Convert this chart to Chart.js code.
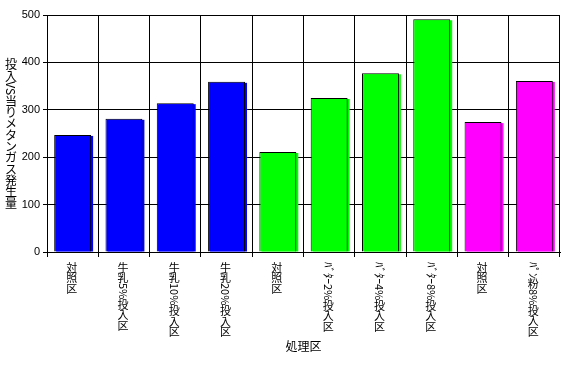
<!DOCTYPE html>
<html>
<head>
<meta charset="utf-8">
<script src="https://cdn.jsdelivr.net/npm/chart.js@4"></script>
<style>
  body { margin: 0; background: #fff; }
  canvas { display: block; }
</style>
</head>
<body>
<canvas id="methaneChart" width="576" height="381"></canvas>
<script>
const categories = ['対照区', '牛乳5%投入区', '牛乳10%投入区', '牛乳20%投入区', '対照区',
                    'ﾊﾞﾀｰ2%投入区', 'ﾊﾞﾀｰ4%投入区', 'ﾊﾞﾀｰ8%投入区', '対照区', 'ﾊﾟﾝ粉8%投入区'];
const methaneValues = [247, 281, 314, 359, 211, 325, 377, 491, 274, 361];
const barColors = ['#0000FF', '#0000FF', '#0000FF', '#0000FF',
                   '#00FF00', '#00FF00', '#00FF00', '#00FF00',
                   '#FF00FF', '#FF00FF'];
const yTicks = [0, 100, 200, 300, 400, 500];
const yTitle = '投入VS当りメタンガス発生量';
const xTitle = '処理区';

const cjkFont = '"Noto Sans CJK JP", sans-serif';

// half-width chars (ascii + half-width kana) get turned sideways, like Excel vertical text
function isHalfWidth(ch) {
  const c = ch.codePointAt(0);
  return c < 0x100 || (c >= 0xFF61 && c <= 0xFF9F);
}

function splitRuns(text) {
  const runs = [];
  for (const ch of text) {
    const half = isHalfWidth(ch);
    const last = runs[runs.length - 1];
    if (half && last && last.half) {
      last.text += ch;
    } else {
      runs.push({ text: ch, half: half });
    }
  }
  return runs;
}

function verticalHeight(ctx, text, advance) {
  let h = 0;
  splitRuns(text).forEach(run => {
    h += run.half ? ctx.measureText(run.text).width : advance;
  });
  return h;
}

function drawVertical(ctx, text, cx, top, advance) {
  let y = top;
  splitRuns(text).forEach(run => {
    if (run.half) {
      const w = ctx.measureText(run.text).width;
      ctx.save();
      ctx.translate(cx, y);
      ctx.rotate(Math.PI / 2);
      ctx.textAlign = 'left';
      ctx.textBaseline = 'middle';
      ctx.fillText(run.text, 0, 0);
      ctx.restore();
      y += w;
    } else {
      ctx.textAlign = 'center';
      ctx.textBaseline = 'top';
      ctx.fillText(run.text, cx, y);
      y += advance;
    }
  });
}

const barShadow = {
  id: 'barShadow',
  beforeDatasetsDraw(chart) {
    const ctx = chart.ctx;
    const meta = chart.getDatasetMeta(0);
    ctx.save();
    meta.data.forEach((bar, i) => {
      ctx.fillStyle = barColors[i];
      ctx.fillRect(bar.x - bar.width / 2 + 2, bar.y + 1, bar.width, bar.base - bar.y - 1);
    });
    ctx.restore();
  }
};

const verticalLabels = {
  id: 'verticalLabels',
  afterDraw(chart) {
    const ctx = chart.ctx;
    const area = chart.chartArea;
    const xScale = chart.scales.x;
    ctx.save();
    ctx.fillStyle = '#000';

    ctx.font = '11px ' + cjkFont;
    categories.forEach((label, i) => {
      drawVertical(ctx, label, xScale.getPixelForTick(i) - 1, area.bottom + 10, 10.5);
    });

    ctx.font = '12px ' + cjkFont;
    const h = verticalHeight(ctx, yTitle, 11.3);
    drawVertical(ctx, yTitle, 11, (area.top + area.bottom) / 2 - h / 2, 11.3);

    ctx.textAlign = 'center';
    ctx.textBaseline = 'middle';
    ctx.fillText(xTitle, (area.left + area.right) / 2, 346);
    ctx.restore();
  }
};

new Chart(document.getElementById('methaneChart'), {
  type: 'bar',
  data: {
    labels: categories,
    datasets: [{
      data: methaneValues,
      backgroundColor: barColors,
      borderColor: '#000',
      borderWidth: 1,
      barPercentage: 0.72,
      categoryPercentage: 1.0
    }]
  },
  options: {
    responsive: false,
    animation: false,
    devicePixelRatio: 1,
    layout: { padding: { top: 15, right: 16, left: 0, bottom: 0 } },
    plugins: {
      legend: { display: false },
      tooltip: { enabled: false }
    },
    scales: {
      x: {
        grid: { color: '#000', lineWidth: 1, offset: true, tickLength: 5 },
        border: { color: '#000' },
        ticks: { display: false },
        afterFit: scale => { scale.height = 129; }
      },
      y: {
        min: 0,
        max: 500,
        afterBuildTicks: scale => { scale.ticks = yTicks.map(v => ({ value: v })); },
        grid: { color: '#000', lineWidth: 1, tickLength: 4 },
        border: { color: '#000' },
        ticks: {
          color: '#000',
          padding: 3,
          font: { family: '"Liberation Sans", Arial, sans-serif', size: 11 }
        },
        afterFit: scale => { scale.width = 47; }
      }
    }
  },
  plugins: [barShadow, verticalLabels]
});
</script>
</body>
</html>
